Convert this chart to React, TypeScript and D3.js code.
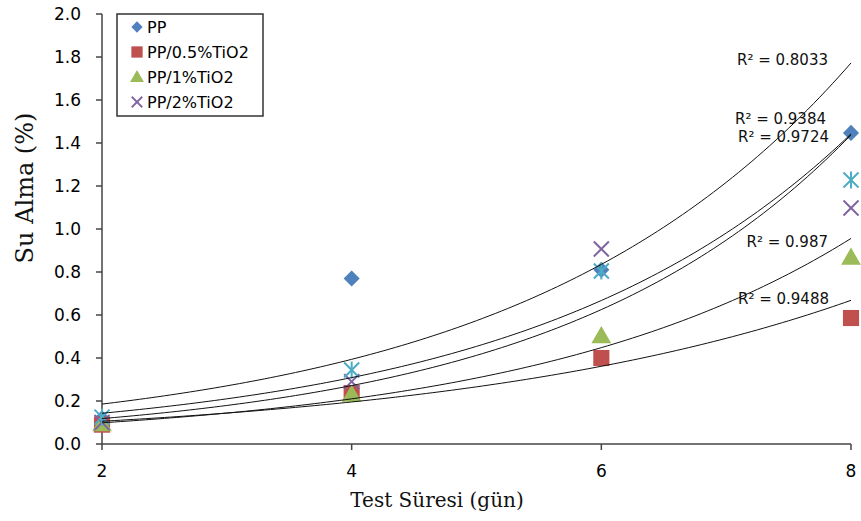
import { scaleLinear, line as d3line, range, symbol, symbolSquare, symbolTriangle } from "d3";

// test days (x) and water uptake (%) per sample
const DAYS = [2, 4, 6, 8];
const PP = [0.12, 0.77, 0.81, 1.447];
const PP_05 = [0.09, 0.237, 0.40, 0.586];
const PP_1 = [0.09, 0.228, 0.50, 0.865];
const PP_2 = [0.10, 0.29, 0.907, 1.098];
const PP_X = [0.125, 0.344, 0.805, 1.228]; // extra series, not in legend

const Y_TICKS = [0, 0.2, 0.4, 0.6, 0.8, 1.0, 1.2, 1.4, 1.6, 1.8, 2.0];
const X_TICKS = [2, 4, 6, 8];
const R2_LABELS = ["R² = 0.8033", "R² = 0.9384", "R² = 0.9724", "R² = 0.987", "R² = 0.9488"];
const LEGEND = ["PP", "PP/0.5%TiO2", "PP/1%TiO2", "PP/2%TiO2"];

const X0 = 102, X1 = 851, Y0 = 444, Y1 = 14;
const C = { blue: "#4F81BD", red: "#C0504D", green: "#9BBB59", purple: "#8064A2", cyan: "#4BACC6" };
const TICK_FONT = "'DejaVu Sans', sans-serif";
const TITLE_FONT = "'DejaVu Serif', serif";

// Excel style exponential trendline: least squares on ln(y)
function expFit(xs: number[], ys: number[]) {
  const ly = ys.map(Math.log);
  const mx = xs.reduce((a, b) => a + b, 0) / xs.length;
  const my = ly.reduce((a, b) => a + b, 0) / ly.length;
  let sxy = 0, sxx = 0;
  xs.forEach((x, i) => { sxy += (x - mx) * (ly[i] - my); sxx += (x - mx) ** 2; });
  const b = sxy / sxx;
  const a = Math.exp(my - b * mx);
  return (x: number) => a * Math.exp(b * x);
}

function Marker({ kind, color, x, y, k = 1 }: { kind: string; color: string; x: number; y: number; k?: number }) {
  if (kind === "x" || kind === "star") {
    const r = 7.5 * k;
    return (
      <g transform={`translate(${x},${y})`} stroke={color} strokeWidth={2 * Math.min(1, k + 0.2)}>
        <line x1={-r} y1={-r} x2={r} y2={r} />
        <line x1={-r} y1={r} x2={r} y2={-r} />
        {kind === "star" && <line x1={0} y1={-r - 1} x2={0} y2={r + 1} />}
      </g>
    );
  }
  if (kind === "diamond") {
    return <path d={symbol(symbolSquare, 130 * k * k)() ?? ""} transform={`translate(${x},${y}) rotate(45)`} fill={color} />;
  }
  const t = kind === "square" ? symbolSquare : symbolTriangle;
  const size = (kind === "square" ? 260 : 170) * k * k;
  const dy = kind === "triangle" ? 1 : 0;
  return <path d={symbol(t, size)() ?? ""} transform={`translate(${x},${y + dy})`} fill={color} />;
}

export default function App() {
  const sx = scaleLinear().domain([2, 8]).range([X0, X1]);
  const sy = scaleLinear().domain([0, 2]).range([Y0, Y1]);

  const series = [
    { ys: PP, kind: "diamond", color: C.blue },
    { ys: PP_05, kind: "square", color: C.red },
    { ys: PP_1, kind: "triangle", color: C.green },
    { ys: PP_2, kind: "x", color: C.purple },
    { ys: PP_X, kind: "star", color: C.cyan },
  ];

  const xs = range(2, 8.001, 0.05);
  const lineGen = d3line<number>().x((x) => sx(x));

  // label anchor positions (right edge, baseline)
  const labelPos = [
    [828, 65], [826, 124], [829, 142], [828, 247], [829, 304],
  ];

  return (
    <svg width={861} height={521} style={{ position: "absolute", left: 0, top: 0, background: "#fff" }}>
      {/* y axis */}
      <line x1={X0} x2={X0} y1={Y1} y2={Y0} stroke="#444" strokeWidth={1.5} />
      {Y_TICKS.map((t) => (
        <g key={t}>
          <line x1={X0 - 6} x2={X0} y1={sy(t)} y2={sy(t)} stroke="#444" strokeWidth={1.5} />
          <text x={81} y={sy(t)} textAnchor="end" dominantBaseline="central" fontFamily={TICK_FONT} fontSize={17} fill="#000">
            {t.toFixed(1)}
          </text>
        </g>
      ))}
      {/* x axis */}
      <line x1={X0} x2={X1} y1={Y0} y2={Y0} stroke="#444" strokeWidth={1.5} />
      {X_TICKS.map((t) => (
        <g key={t}>
          <line x1={sx(t)} x2={sx(t)} y1={Y0} y2={Y0 + 6} stroke="#444" strokeWidth={1.5} />
          <text x={sx(t)} y={471} textAnchor="middle" dominantBaseline="central" fontFamily={TICK_FONT} fontSize={17} fill="#000">
            {t}
          </text>
        </g>
      ))}
      <text x={437} y={500} textAnchor="middle" dominantBaseline="central" fontFamily={TITLE_FONT} fontSize={20} fill="#111">
        Test Süresi (gün)
      </text>
      <text transform="translate(25,188) rotate(-90)" textAnchor="middle" dominantBaseline="central" fontFamily={TITLE_FONT} fontSize={24} fill="#111">
        Su Alma (%)
      </text>

      {/* markers */}
      {series.map((s, i) => (
        <g key={i}>
          {DAYS.map((d, j) => (
            <Marker key={j} kind={s.kind} color={s.color} x={sx(d)} y={sy(s.ys[j])} />
          ))}
        </g>
      ))}

      {/* trendlines */}
      {series.map((s, i) => {
        const f = expFit(DAYS, s.ys);
        return <path key={i} d={lineGen.y((x) => sy(f(x)))(xs) ?? ""} fill="none" stroke="#111" strokeWidth={1} />;
      })}

      {R2_LABELS.map((lab, i) => (
        <text key={i} x={labelPos[i][0]} y={labelPos[i][1]} textAnchor="end" fontFamily={TICK_FONT} fontSize={15} fill="#111">
          {lab}
        </text>
      ))}

      {/* legend */}
      <rect x={117} y={14} width={146} height={102} fill="#fff" stroke="#333" strokeWidth={1.5} />
      {LEGEND.map((name, i) => (
        <g key={name}>
          <Marker kind={series[i].kind} color={series[i].color} x={137} y={27 + i * 25} k={0.7} />
          <text x={147} y={27 + i * 25} dominantBaseline="central" fontFamily={TICK_FONT} fontSize={16} fill="#000">
            {name}
          </text>
        </g>
      ))}
    </svg>
  );
}
